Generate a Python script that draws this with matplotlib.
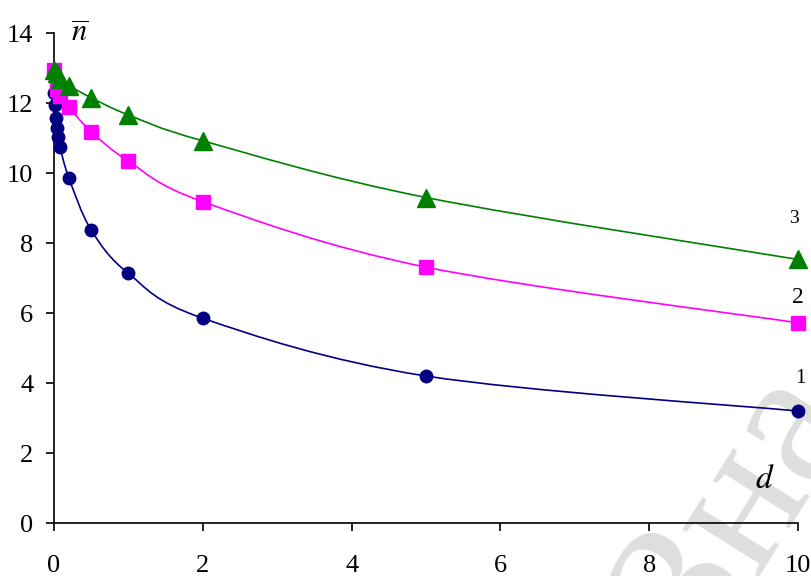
"""
Mean value n̄ versus d for three series, Excel-style smoothed lines.
"""
import matplotlib
matplotlib.use("Agg")
from matplotlib import pyplot as plt
from matplotlib.path import Path
from matplotlib.patches import PathPatch
import numpy as np


# series 1 (circles)
D1 = [0, 0.01, 0.02, 0.04, 0.06, 0.08, 0.2, 0.5, 1, 2, 5, 10]
N1 = [12.3, 11.95, 11.56, 11.28, 11.04, 10.75, 9.86, 8.37, 7.13, 5.85, 4.2, 3.2]
# series 2 (squares)
D2 = [0, 0.04, 0.08, 0.2, 0.5, 1, 2, 5, 10]
N2 = [12.95, 12.4, 12.2, 11.88, 11.18, 10.34, 9.18, 7.31, 5.72]
# series 3 (triangles)
D3 = [0, 0.04, 0.08, 0.2, 0.5, 1, 2, 5, 10]
N3 = [12.95, 12.85, 12.7, 12.5, 12.15, 11.66, 10.92, 9.3, 7.53]

XTICKS = [0, 2, 4, 6, 8, 10]
YTICKS = [0, 2, 4, 6, 8, 10, 12, 14]

SERIES = [
    (D1, N1, "#000080", "o", 9, "1"),
    (D2, N2, "#FF00FF", "s", 9.5, "2"),
    (D3, N3, "#008000", "^", 13, "3"),
]


def smooth_path(x, y):
    """Catmull-Rom style cubic Bezier through the points (like Excel smoothing)."""
    p = np.column_stack([x, y]).astype(float)
    n = len(p)
    verts = [p[0]]
    codes = [Path.MOVETO]
    for i in range(n - 1):
        prev = p[i - 1] if i > 0 else p[i]
        nxt = p[i + 2] if i + 2 < n else p[i + 1]
        c1 = p[i] + (p[i + 1] - prev) / 6.0
        c2 = p[i + 1] - (nxt - p[i]) / 6.0
        verts += [c1, c2, p[i + 1]]
        codes += [Path.CURVE4] * 3
    return Path(verts, codes)


plt.rcParams["font.family"] = ["Liberation Serif", "DejaVu Serif"]
plt.rcParams["mathtext.fontset"] = "stix"

fig = plt.figure(figsize=(8.11, 5.76), dpi=100)
ax = fig.add_axes([0.0666, 0.092, 0.9174, 0.8507])
ax.set_zorder(1)
ax.patch.set_alpha(0)

# faint watermark in the corner, behind the plot
fig.text(0.91, 0.12, "Зна", fontsize=140, color="#dedede", rotation=58,
         ha="center", va="center", zorder=0)

for d, n, color, marker, ms, label in SERIES:
    ax.add_patch(PathPatch(smooth_path(d, n), fill=False, edgecolor=color,
                           linewidth=1.2, zorder=2))
    ax.plot(d, n, linestyle="none", marker=marker, markersize=ms,
            color=color, markeredgecolor=color, clip_on=False, zorder=3)

ax.text(9.95, 8.7, "3", fontsize=14, ha="center", va="center")
ax.text(10.0, 6.43, "2", fontsize=17, ha="center", va="center")
ax.text(10.03, 4.14, "1", fontsize=15, ha="center", va="center")

ax.text(0.34, 13.75, r"$\overline{n}$", fontsize=22, ha="center",
        va="baseline")
ax.text(9.56, 1.0, r"$d$", fontsize=24, ha="center", va="baseline")

ax.set_xlim(0, 10)
ax.set_ylim(0, 14)
ax.set_xticks(XTICKS)
ax.set_yticks(YTICKS)
ax.spines["top"].set_visible(False)
ax.spines["right"].set_visible(False)
for side in ("left", "bottom"):
    ax.spines[side].set_linewidth(1.2)
ax.tick_params(axis="both", direction="out", length=6, width=1.2,
               labelsize=19)
ax.tick_params(axis="y", pad=9)
ax.tick_params(axis="x", pad=17)

fig.savefig("out.png", dpi=100)
